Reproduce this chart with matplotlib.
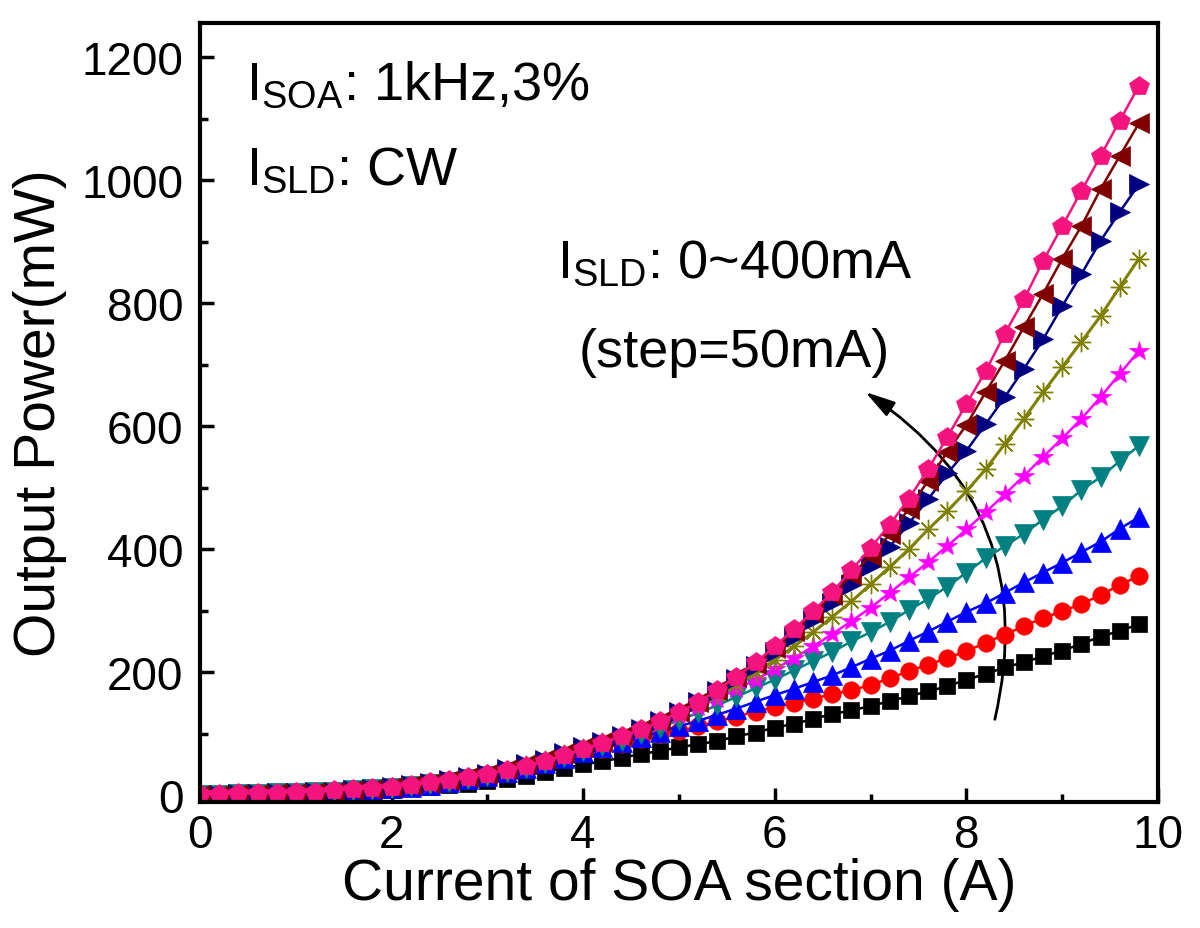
import numpy as np
import matplotlib
matplotlib.use("Agg")
import matplotlib.pyplot as plt
from matplotlib.patches import FancyArrowPatch
from matplotlib.ticker import MultipleLocator

plt.rcParams['font.family'] = ['Liberation Sans', 'DejaVu Sans']
plt.rcParams['mathtext.fontset'] = 'custom'
plt.rcParams['mathtext.rm'] = 'Liberation Sans'

# SOA current (A)
current = np.round(np.arange(0, 9.81, 0.2), 1)

# output power (mW) for I_SLD = 0 ... 400 mA
p_0mA = [0, 0, 1, 1, 2, 2, 3, 4, 5, 6,
         9, 11, 13, 16, 19, 23, 27, 32, 38, 44,
         50, 55, 61, 67, 72, 78, 83, 88, 96, 102,
         110, 116, 124, 132, 138, 145, 153, 161, 169, 177,
         188, 197, 208, 216, 226, 235, 246, 258, 267, 278]
p_50mA = [1, 1, 1, 2, 3, 3, 4, 5, 6, 8,
          11, 14, 17, 21, 26, 31, 37, 44, 52, 61,
          70, 76, 83, 91, 99, 104, 112, 120, 128, 136,
          143, 150, 157, 164, 171, 179, 190, 202, 212, 223,
          234, 248, 261, 275, 288, 299, 311, 325, 342, 356]
p_100mA = [1, 1, 2, 2, 3, 4, 5, 6, 7, 9,
           12, 14, 17, 21, 26, 31, 37, 44, 52, 61,
           71, 78, 86, 94, 103, 112, 121, 131, 141, 152,
           163, 173, 184, 195, 208, 222, 235, 251, 266, 282,
           298, 312, 329, 346, 362, 378, 395, 412, 433, 452]
p_150mA = [1, 1, 2, 2, 3, 4, 5, 6, 8, 10,
           12, 15, 18, 22, 27, 32, 38, 45, 53, 62,
           72, 80, 89, 99, 110, 122, 134, 146, 160, 174,
           188, 203, 218, 233, 250, 265, 282, 301, 319, 339,
           362, 385, 405, 425, 448, 470, 496, 517, 543, 568]
p_200mA = [1, 1, 2, 2, 3, 4, 5, 6, 8, 10,
           13, 15, 19, 23, 28, 33, 39, 46, 54, 64,
           75, 84, 94, 105, 117, 130, 143, 157, 172, 188,
           205, 223, 242, 262, 283, 305, 329, 354, 379, 405,
           432, 460, 489, 519, 550, 580, 612, 647, 685, 722]
p_250mA = [1, 1, 2, 2, 3, 4, 5, 6, 8, 10,
           13, 16, 20, 24, 29, 34, 41, 49, 57, 67,
           77, 86, 96, 107, 119, 133, 148, 164, 181, 200,
           220, 242, 265, 290, 315, 343, 371, 400, 432, 462,
           494, 530, 571, 612, 655, 696, 737, 779, 826, 872]
p_300mA = [1, 1, 2, 2, 3, 4, 5, 6, 8, 10,
           13, 16, 20, 24, 29, 35, 42, 50, 58, 68,
           78, 87, 97, 108, 121, 135, 151, 169, 189, 210,
           233, 258, 285, 313, 342, 372, 404, 442, 481, 523,
           560, 603, 647, 693, 741, 795, 847, 901, 948, 993]
p_350mA = [1, 1, 2, 2, 3, 4, 5, 6, 8, 10,
           13, 16, 20, 24, 29, 35, 42, 50, 59, 69,
           78, 87, 97, 108, 121, 136, 152, 171, 192, 214,
           240, 267, 296, 326, 358, 389, 424, 466, 511, 558,
           602, 655, 706, 761, 815, 872, 925, 985, 1039, 1092]
p_400mA = [2, 2, 3, 3, 4, 5, 6, 8, 10, 12,
           14, 17, 21, 25, 30, 35, 41, 48, 55, 65,
           75, 85, 96, 107, 120, 135, 151, 171, 193, 216,
           242, 270, 299, 330, 366, 402, 440, 482, 530, 582,
           636, 689, 750, 806, 868, 925, 982, 1039, 1096, 1153]

series = [p_0mA, p_50mA, p_100mA, p_150mA, p_200mA,
          p_250mA, p_300mA, p_350mA, p_400mA]
colors = ['#000000', '#FF0000', '#0000FF', '#008080', '#FF00FF',
          '#808000', '#000080', '#800000', '#F5137E']
markers = ['s', 'o', '^', 'v', '*', (8, 2, 0), '>', '<', 'p']
msizes = [11, 12.5, 14, 14, 15, 14, 14, 14, 15]

fig = plt.figure(figsize=(12, 9.29), dpi=100)
ax = fig.add_axes([0.1667, 0.1356, 0.7983, 0.8384])

for vals, c, m, ms in zip(series, colors, markers, msizes):
    if m == (8, 2, 0):
        ax.plot(current, vals, color=c, lw=2.2, marker=m, ms=ms,
                mec=c, mew=1.0)
    else:
        ax.plot(current, vals, color=c, lw=1.8, marker=m, ms=ms,
                mfc=c, mec=c, mew=0.5)

ax.set_xlim(0, 10)
ax.set_ylim(-11, 1255)
ax.xaxis.set_major_locator(MultipleLocator(2))
ax.xaxis.set_minor_locator(MultipleLocator(1))
ax.yaxis.set_major_locator(MultipleLocator(200))
ax.yaxis.set_minor_locator(MultipleLocator(100))

for s in ax.spines.values():
    s.set_linewidth(3.0)
ax.tick_params(which='both', direction='in', top=False, right=False,
               labelsize=33, width=2.5)
ax.tick_params(which='major', length=10)
ax.tick_params(which='minor', length=6)
ax.tick_params(axis='y', pad=12)
ax.tick_params(axis='x', pad=8)

ax.set_xlabel('Current of SOA section (A)', fontsize=41, labelpad=0)
ax.set_ylabel('Output Power(mW)', fontsize=41, labelpad=10)

ax.text(0.48, 1132, r'I$_{\mathrm{SOA}}$: 1kHz,3%', fontsize=39)
ax.text(0.48, 993, r'I$_{\mathrm{SLD}}$: CW', fontsize=39)
ax.text(5.58, 842, r'I$_{\mathrm{SLD}}$: 0~400mA', fontsize=39, ha='center')
ax.text(5.58, 698, '(step=50mA)', fontsize=39, ha='center')

arrow = FancyArrowPatch((8.29, 119), (6.92, 658),
                        connectionstyle='arc3,rad=0.35',
                        arrowstyle='-|>,head_length=0.9,head_width=0.25',
                        color='black', lw=2.0, mutation_scale=20)
ax.add_patch(arrow)

fig.savefig('out.png', dpi=100)
